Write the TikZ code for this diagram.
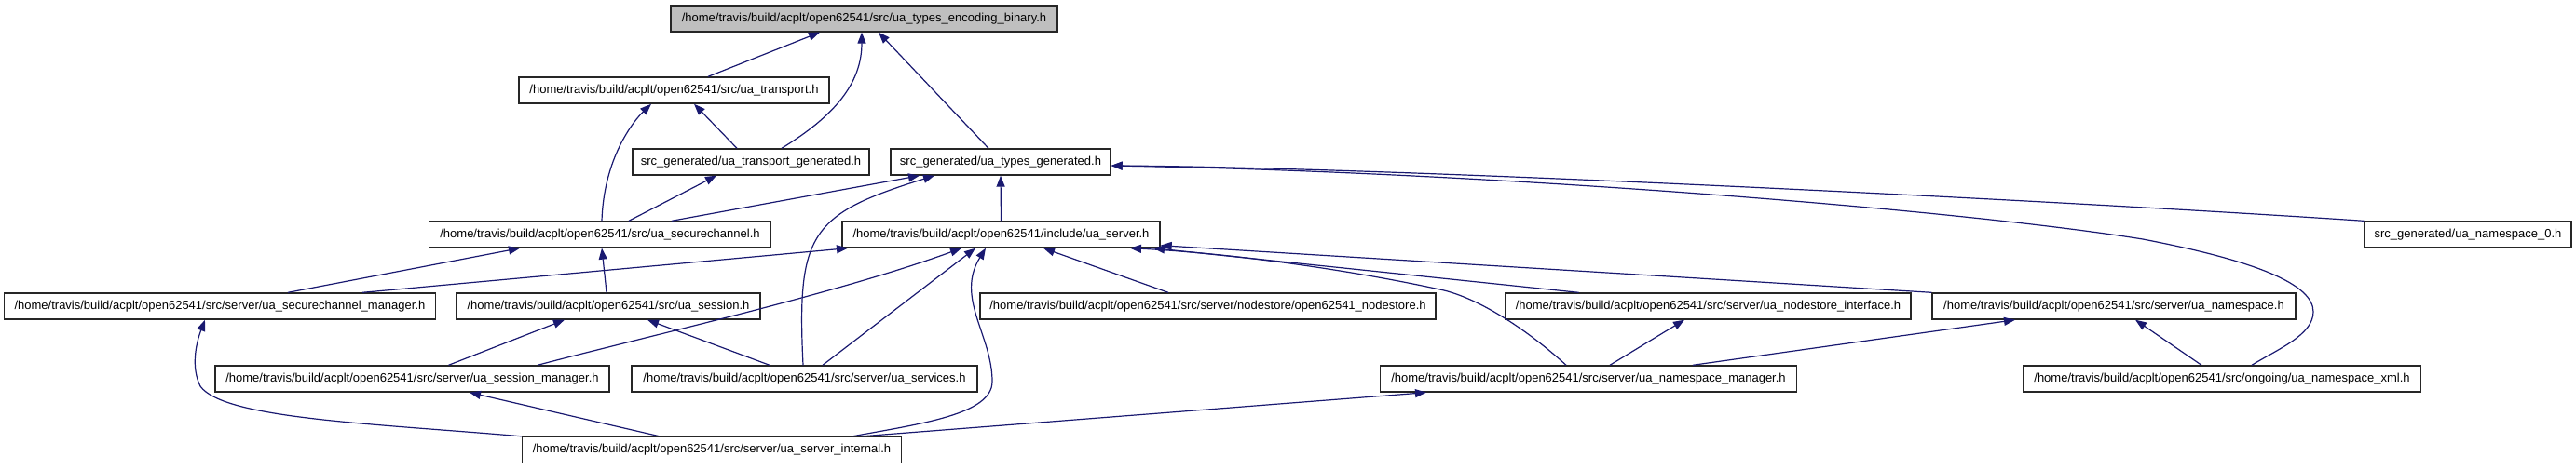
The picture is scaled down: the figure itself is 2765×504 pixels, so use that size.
\documentclass[tikz,border=0pt]{standalone}
\usepackage{fontspec}
\setmainfont{Liberation Sans}
\usetikzlibrary{arrows.meta}
\definecolor{edgeblue}{RGB}{25,25,112}
\definecolor{nodegray}{RGB}{191,191,191}
\begin{document}
\begin{tikzpicture}[x=1pt,y=-1pt,
  file/.style={draw=black!85, line width=1.4pt, fill=white, minimum height=28pt, inner sep=0pt, font=\fontsize{13}{15}\selectfont, anchor=center},
  edge/.style={draw=edgeblue, line width=1.2pt, -{Triangle[length=12pt,width=9pt]}}]
\useasboundingbox (0,0) rectangle (2765,504);
% nodes
\node[file, minimum width=415pt, fill=nodegray] (enc) at (927.5,20) {/home/travis/build/acplt/open62541/src/ua\_types\_encoding\_binary.h};
\node[file, minimum width=333pt] (transport) at (723.5,97) {/home/travis/build/acplt/open62541/src/ua\_transport.h};
\node[file, minimum width=254pt] (tgen) at (806,174) {src\_generated/ua\_transport\_generated.h};
\node[file, minimum width=236pt] (typesgen) at (1074,174) {src\_generated/ua\_types\_generated.h};
\node[file, minimum width=367pt] (securechannel) at (644,252) {/home/travis/build/acplt/open62541/src/ua\_securechannel.h};
\node[file, minimum width=341pt] (server) at (1074.5,252) {/home/travis/build/acplt/open62541/include/ua\_server.h};
\node[file, minimum width=222pt] (ns0) at (2649,252) {src\_generated/ua\_namespace\_0.h};
\node[file, minimum width=463pt] (scm) at (236,329) {/home/travis/build/acplt/open62541/src/server/ua\_securechannel\_manager.h};
\node[file, minimum width=326pt] (session) at (653,329) {/home/travis/build/acplt/open62541/src/ua\_session.h};
\node[file, minimum width=489pt] (nodestore) at (1296.5,329) {/home/travis/build/acplt/open62541/src/server/nodestore/open62541\_nodestore.h};
\node[file, minimum width=435pt] (nsi) at (1833.5,329) {/home/travis/build/acplt/open62541/src/server/ua\_nodestore\_interface.h};
\node[file, minimum width=390pt] (namespace) at (2269,329) {/home/travis/build/acplt/open62541/src/server/ua\_namespace.h};
\node[file, minimum width=423pt] (sessman) at (442.5,407) {/home/travis/build/acplt/open62541/src/server/ua\_session\_manager.h};
\node[file, minimum width=371pt] (services) at (863.5,407) {/home/travis/build/acplt/open62541/src/server/ua\_services.h};
\node[file, minimum width=447pt] (nsman) at (1705,407) {/home/travis/build/acplt/open62541/src/server/ua\_namespace\_manager.h};
\node[file, minimum width=426.5pt] (nsxml) at (2385,407) {/home/travis/build/acplt/open62541/src/ongoing/ua\_namespace\_xml.h};
\node[file, minimum width=407pt] (internal) at (764,483.5) {/home/travis/build/acplt/open62541/src/server/ua\_server\_internal.h};
% edges
\draw[edge] ([xshift=36.5pt]transport.north) -- ([xshift=-47.5pt]enc.south);
\draw[edge] ([xshift=33pt]tgen.north) .. controls (895,125) and (925,90) .. ([xshift=-2.5pt]enc.south);
\draw[edge] ([xshift=-13pt]typesgen.north) -- ([xshift=15.5pt]enc.south);
\draw[edge] ([xshift=-15pt]tgen.north) -- ([xshift=21.5pt]transport.south);
\draw[edge] ([xshift=2pt]securechannel.north) .. controls (648,170) and (680,130) .. ([xshift=-24.5pt]transport.south);
\draw[edge] ([xshift=31pt]securechannel.north) -- ([xshift=-37pt]tgen.south);
\draw[edge] ([xshift=77pt]securechannel.north) -- ([xshift=-87pt]typesgen.south);
\draw[edge] ([xshift=-1.5pt]services.north) .. controls (855,250) and (870,230) .. ([xshift=-71pt]typesgen.south);
\draw[edge] (server.north) -- (typesgen.south);
\draw[edge] (ns0.north west) .. controls (2200,215) and (1500,180) .. ([yshift=-4pt]typesgen.east);
\draw[edge] ([xshift=32pt]nsxml.north) .. controls (2445,375) and (2483,360) .. (2483,335)
  .. controls (2483,305) and (2420,280) .. (2300,257)
  .. controls (2100,225) and (1600,185) .. ([yshift=-4pt]typesgen.east);
\draw[edge] ([xshift=73pt]scm.north) -- ([xshift=-86pt]securechannel.south);
\draw[edge] ([xshift=153pt]scm.north) -- ([xshift=-164.5pt]server.south);
\draw[edge] ([xshift=-2pt]session.north) -- ([xshift=2pt]securechannel.south);
\draw[edge] ([xshift=39pt]sessman.north) -- ([xshift=-47pt]session.south);
\draw[edge] ([xshift=-37.5pt]services.north) -- ([xshift=42pt]session.south);
\draw[edge] ([xshift=134.5pt]sessman.north) .. controls (700,360) and (900,315) .. ([xshift=-42.5pt]server.south);
\draw[edge] ([xshift=19.5pt]services.north) -- ([xshift=-27.5pt]server.south);
\draw[edge] ([xshift=151pt]internal.north) .. controls (990,455) and (1065,445) .. (1065,410)
  .. controls (1065,360) and (1025,320) .. ([xshift=-16.5pt]server.south);
\draw[edge] ([xshift=-42.5pt]nodestore.north) -- ([xshift=45.5pt]server.south);
\draw[edge] ([xshift=-24pt]nsman.north) .. controls (1640,355) and (1590,322) .. (1550,312)
  .. controls (1450,290) and (1320,272) .. ([xshift=138.5pt]server.south);
\draw[edge] ([xshift=-139pt]nsi.north) -- ([xshift=163.5pt]server.south);
\draw[edge] (namespace.north west) -- ([yshift=3pt]server.south east);
\draw[edge] ([xshift=23pt]nsman.north) -- ([xshift=-25.5pt]nsi.south);
\draw[edge] ([xshift=112pt]nsman.north) -- ([xshift=-106pt]namespace.south);
\draw[edge] (internal.north west) .. controls (400,455) and (240,450) .. (215,415)
  .. controls (205,395) and (210,370) .. ([xshift=-16pt]scm.south);
\draw[edge] ([xshift=-56pt]internal.north) -- ([xshift=61.5pt]sessman.south);
\draw[edge] ([xshift=161pt]internal.north) -- ([xshift=-174pt]nsman.south);
\draw[edge] ([xshift=-22pt]nsxml.north) -- ([xshift=23pt]namespace.south);
\end{tikzpicture}
\end{document}
